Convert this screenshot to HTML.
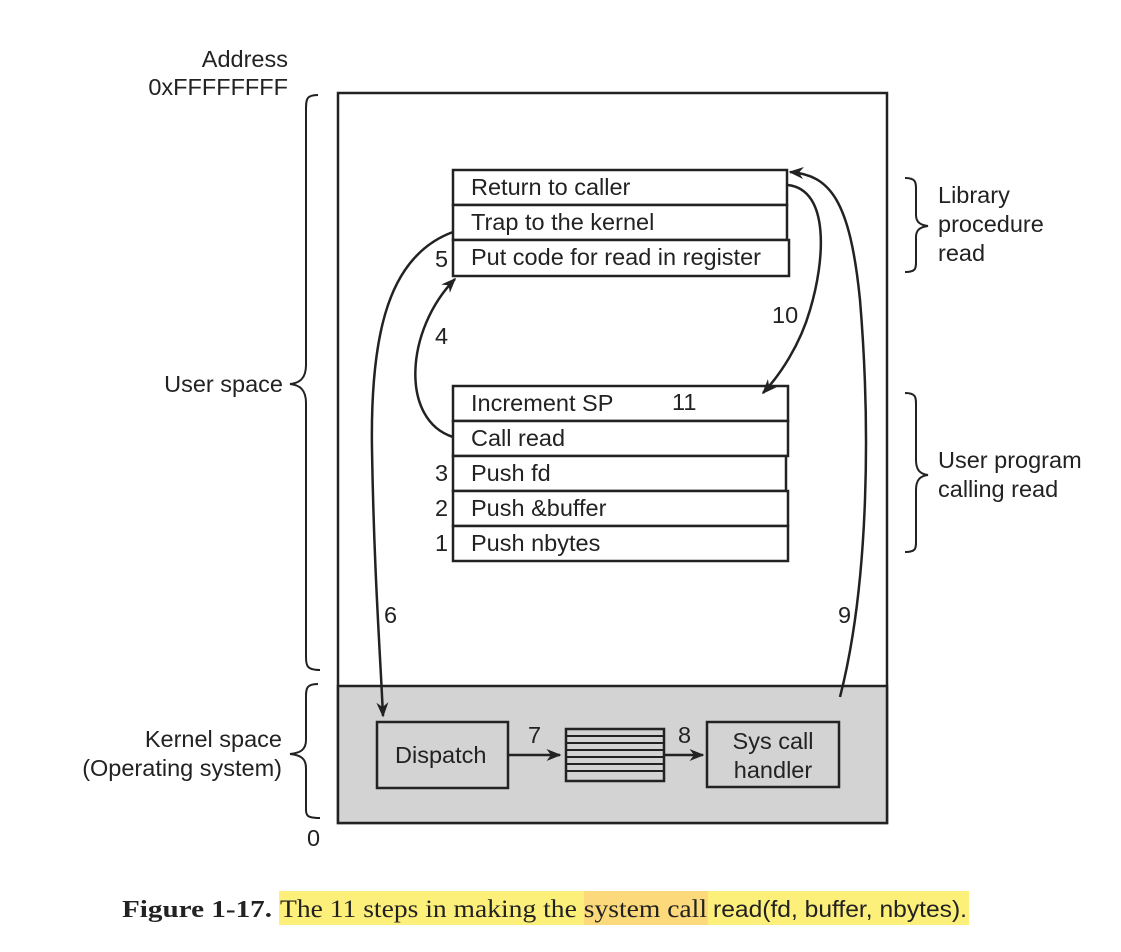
<!DOCTYPE html>
<html><head><style>
body{margin:0;background:#fff;}
svg text{font-family:"Liberation Sans",sans-serif;font-size:23.5px;fill:#222;}
</style></head><body>
<svg width="1121" height="947" viewBox="0 0 1121 947" xmlns="http://www.w3.org/2000/svg">
<defs><marker id="a" viewBox="0 0 10 10" refX="9" refY="5" markerWidth="6" markerHeight="6" orient="auto"><path d="M0,1 L10,5 L0,9 L3,5 z" fill="#222"/></marker></defs>
<g stroke="#222" stroke-width="2.5" fill="none">
<rect x="338" y="93" width="549" height="730" fill="#fff"/>
<rect x="338" y="686" width="549" height="137" fill="#d3d3d3"/>
<rect x="453" y="170" width="334" height="35" fill="#fff"/>
<rect x="453" y="205" width="334" height="35" fill="#fff"/>
<rect x="453" y="240" width="336" height="36" fill="#fff"/>
<rect x="453" y="386" width="335" height="35" fill="#fff"/>
<rect x="453" y="421" width="335" height="35" fill="#fff"/>
<rect x="453" y="456" width="333" height="35" fill="#fff"/>
<rect x="453" y="491" width="335" height="35" fill="#fff"/>
<rect x="453" y="526" width="335" height="35" fill="#fff"/>
<rect x="377" y="722" width="131" height="66" fill="#d3d3d3"/>
<rect x="707" y="722" width="132" height="65" fill="#d3d3d3"/>
<rect x="566" y="729" width="98" height="52" fill="#d3d3d3"/>
<path d="M566,736H664M566,743H664M566,750H664M566,757H664M566,764H664M566,771H664" stroke-width="2"/>
<path d="M508,755H560" marker-end="url(#a)"/>
<path d="M664,755H703" marker-end="url(#a)"/>
<path d="M453,232 C390,255 370,330 372,450 C374,570 380,650 383,716" marker-end="url(#a)"/>
<path d="M453,437 C400,420 405,330 455,279" marker-end="url(#a)"/>
<path d="M788,185 C830,190 825,260 810,310 C800,345 780,375 763,393" marker-end="url(#a)"/>
<path d="M840,697 C870,580 870,420 860,300 C850,200 830,175 790,172" marker-end="url(#a)"/>
<path d="M318,95 C305,95 306,100 306,115 V365 C306,378 300,383 290,384 C300,385 306,390 306,403 V650 C306,665 305,670 320,670" stroke-width="2"/>
<path d="M318,684 C305,684 306,690 306,700 V740 C306,750 300,753 290,754 C300,755 306,758 306,768 V805 C306,815 305,818 320,818" stroke-width="2"/>
<path d="M905,178 C917,178 916,183 916,193 V215 C916,222 920,225 928,226 C920,227 916,230 916,237 V258 C916,268 917,272 905,272" stroke-width="2"/>
<path d="M905,393 C917,393 916,398 916,408 V460 C916,470 920,474 928,475 C920,476 916,480 916,490 V538 C916,548 917,552 905,552" stroke-width="2"/>
</g>
<text x="288" y="67" text-anchor="end">Address</text>
<text x="288" y="95" text-anchor="end">0xFFFFFFFF</text>
<text x="283" y="392" text-anchor="end">User space</text>
<text x="282" y="747" text-anchor="end">Kernel space</text>
<text x="282" y="776" text-anchor="end">(Operating system)</text>
<text x="307" y="846">0</text>
<text x="938" y="203">Library</text>
<text x="938" y="232">procedure</text>
<text x="938" y="261">read</text>
<text x="938" y="468">User program</text>
<text x="938" y="497">calling read</text>
<text x="471" y="195">Return to caller</text>
<text x="471" y="230">Trap to the kernel</text>
<text x="471" y="265">Put code for read in register</text>
<text x="471" y="411">Increment SP</text>
<text x="672" y="410">11</text>
<text x="471" y="446">Call read</text>
<text x="471" y="481">Push fd</text>
<text x="471" y="516">Push &amp;buffer</text>
<text x="471" y="551">Push nbytes</text>
<text x="435" y="267">5</text>
<text x="435" y="344">4</text>
<text x="435" y="481">3</text>
<text x="435" y="516">2</text>
<text x="435" y="551">1</text>
<text x="772" y="323">10</text>
<text x="384" y="623">6</text>
<text x="838" y="623">9</text>
<text x="528" y="743">7</text>
<text x="678" y="743">8</text>
<text x="395" y="763">Dispatch</text>
<text x="773" y="749" text-anchor="middle">Sys call</text>
<text x="773" y="778" text-anchor="middle">handler</text>
<rect x="279" y="891" width="690" height="34" fill="#fdf07a"/>
<rect x="584" y="891" width="124" height="34" fill="#fcd97a"/>
<text x="122" y="917" textLength="150" lengthAdjust="spacingAndGlyphs" style="font-family:'Liberation Serif',serif;font-weight:bold;font-size:24px">Figure 1-17.</text>
<text x="280" y="917" textLength="427" lengthAdjust="spacingAndGlyphs" style="font-family:'Liberation Serif',serif;font-size:25px">The 11 steps in making the system call</text>
<text x="713" y="917" textLength="254" lengthAdjust="spacingAndGlyphs" style="font-size:23px">read(fd, buffer, nbytes).</text>
</svg>
</body></html>
